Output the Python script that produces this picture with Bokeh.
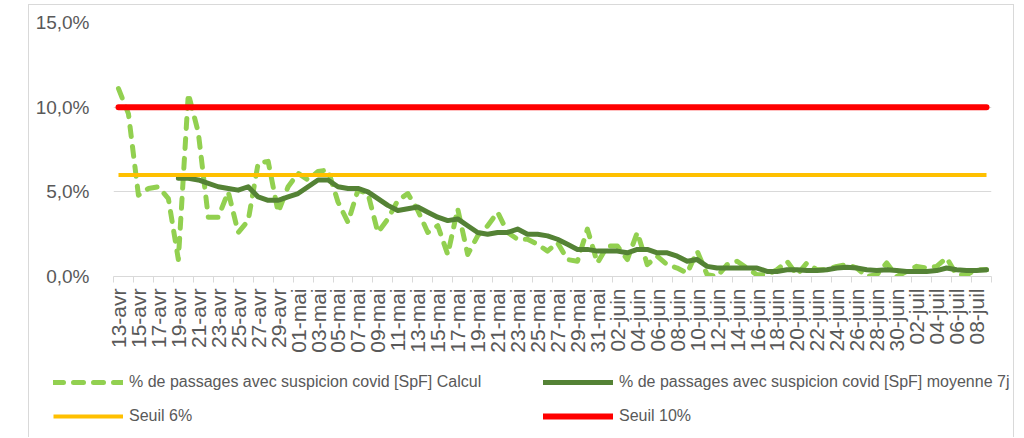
import math
import pandas as pd
from bokeh.plotting import figure
from bokeh.models import Range1d, FixedTicker, Legend, LegendItem
from bokeh.embed import file_html
from bokeh.resources import INLINE

# ---- categories (days) ----
mois = {4: "avr", 5: "mai", 6: "juin", 7: "juil"}
jours = pd.date_range("2020-04-13", "2020-07-09", freq="D")
categories = [f"{d.day:02d}-{mois[d.month]}" for d in jours]

# ---- series values (%) ----
calcul = [
    11.1, 9.6, 4.8, 5.2, 5.3, 4.6, 1.0, 10.8, 8.5, 3.5,
    3.5, 5.0, 2.6, 3.3, 6.7, 6.8, 3.8, 5.3, 6.1, 5.7,
    6.2, 6.3, 4.4, 3.2, 5.1, 4.9, 2.6, 3.4, 4.5, 4.9,
    3.9, 2.6, 3.0, 1.3, 4.0, 1.3, 2.4, 3.0, 3.8, 2.6,
    2.2, 2.2, 1.9, 1.5, 2.0, 1.0, 0.9, 2.8, 0.8, 1.8,
    1.8, 1.0, 2.6, 0.7, 1.2, 0.7, 0.5, 0.2, 1.5, 0.1,
    0.0, 0.7, 0.9, 0.5, 0.1, 0.1, 0.4, 0.9, 0.1, 0.8,
    0.4, 0.4, 0.6, 0.7, 0.5, 0.0, 0.1, 0.8, 0.0, 0.3,
    0.6, 0.5, 0.6, 1.1, 0.1, 0.1, 0.4, 0.4,
]
nan = float("nan")
moyenne_7j = [nan] * 6 + [
    5.8, 5.8, 5.7, 5.5, 5.3, 5.2, 5.1, 5.3, 4.7, 4.5,
    4.5, 4.7, 4.9, 5.3, 5.7, 5.7, 5.3, 5.2, 5.2, 5.0,
    4.6, 4.2, 3.9, 4.0, 4.1, 3.8, 3.5, 3.3, 3.4, 3.0,
    2.6, 2.5, 2.6, 2.6, 2.8, 2.5, 2.5, 2.4, 2.2, 1.9,
    1.6, 1.6, 1.5, 1.5, 1.5, 1.4, 1.6, 1.6, 1.4, 1.4,
    1.2, 0.9, 1.0, 0.6, 0.5, 0.5, 0.5, 0.5, 0.5, 0.3,
    0.3, 0.4, 0.4, 0.35, 0.35, 0.4, 0.5, 0.55, 0.5, 0.4,
    0.35, 0.4, 0.35, 0.3, 0.3, 0.3, 0.35, 0.5, 0.4, 0.35,
    0.35, 0.4,
]
seuil_6 = [6.0] * len(categories)
seuil_10 = [10.0] * len(categories)

y_ticks = [0, 5, 10, 15]
y_tick_labels = ["0,0%", "5,0%", "10,0%", "15,0%"]

series_labels = [
    "% de passages avec suspicion covid [SpF] Calcul",
    "% de passages avec suspicion covid [SpF] moyenne 7j",
    "Seuil 6%",
    "Seuil 10%",
]
series_values = [calcul, moyenne_7j, seuil_6, seuil_10]

x = list(range(len(categories)))
FONT = "Liberation Sans"
GREY_TXT = "#595959"
GREY_LINE = "#d9d9d9"
BORDER = "1px solid #d9d9d9"

STYLES = [
    dict(line_color="#92d050", line_width=5, line_dash="10 10",
         line_cap="round", line_join="round"),
    dict(line_color="#548235", line_width=5, line_cap="round", line_join="round"),
    dict(line_color="#ffc000", line_width=4),
    dict(line_color="#ff0000", line_width=6, line_cap="round"),
]

# ---------------- main chart ----------------
p = figure(
    width=986, height=350,
    x_range=Range1d(-0.5, len(categories) - 0.5),
    y_range=Range1d(0, 15),
    output_backend="svg", toolbar_location=None,
    min_border_left=84, min_border_right=24,
    min_border_top=17, min_border_bottom=78,
)
p.margin = (4, 0, 0, 28)
p.styles = {"border-top": BORDER, "border-left": BORDER, "border-right": BORDER}
p.outline_line_color = None
p.background_fill_color = "white"
p.border_fill_color = "white"

for ys, st in zip(series_values, STYLES):
    p.line(x, ys, **st)

# x axis
label_pos = list(range(0, len(categories), 2))
boundaries = [i - 0.5 for i in range(0, len(categories) + 1, 2)]
p.xaxis.ticker = FixedTicker(ticks=label_pos, minor_ticks=boundaries)
p.xaxis.major_label_overrides = {i: categories[i] for i in label_pos}
p.xaxis.major_label_orientation = math.pi / 2
p.xaxis.major_tick_out = 0
p.xaxis.major_tick_in = 0
p.xaxis.minor_tick_out = 6
p.xaxis.minor_tick_in = 0
p.xaxis.minor_tick_line_color = GREY_LINE
p.xaxis.axis_line_color = GREY_LINE
p.xaxis.major_label_standoff = 6
p.xaxis.major_label_text_font = FONT
p.xaxis.major_label_text_font_size = "21px"
p.xaxis.major_label_text_color = GREY_TXT

# y axis
p.yaxis.ticker = FixedTicker(ticks=y_ticks)
p.yaxis.major_label_overrides = dict(zip(y_ticks, y_tick_labels))
p.yaxis.axis_line_color = None
p.yaxis.major_tick_line_color = None
p.yaxis.minor_tick_line_color = None
p.yaxis.major_label_standoff = 18
p.yaxis.major_label_text_font = FONT
p.yaxis.major_label_text_font_size = "19px"
p.yaxis.major_label_text_color = GREY_TXT

p.ygrid.ticker = FixedTicker(ticks=y_ticks)
p.ygrid.grid_line_color = GREY_LINE
p.xgrid.visible = False

# ---------------- legend strip (separate root, no frame alignment) ----------------
pl = figure(
    width=986, height=83,
    x_range=Range1d(-0.5, len(categories) - 0.5), y_range=Range1d(100, 101),
    x_axis_location=None, y_axis_location=None,
    output_backend="svg", toolbar_location=None,
    min_border=0, min_border_left=0, min_border_right=0,
    min_border_top=0, min_border_bottom=0,
)
pl.margin = (0, 0, 0, 28)
pl.styles = {"border-left": BORDER, "border-right": BORDER}
pl.grid.visible = False
pl.outline_line_color = None
pl.background_fill_color = "white"
pl.border_fill_color = "white"

# same series, outside the strip's visible range: only their legend glyphs show
leg_renderers = [pl.line(x, ys, **st) for ys, st in zip(series_values, STYLES)]

legend = Legend(
    items=[LegendItem(label=lab, renderers=[r]) for lab, r in zip(series_labels, leg_renderers)],
    location=(24, 11),
    orientation="horizontal",
    ncols=2,
    glyph_width=70, glyph_height=20,
    label_standoff=6, label_width=400, label_height=20,
    spacing=14, padding=0, margin=0,
    border_line_color=None, background_fill_alpha=0,
    label_text_font=FONT, label_text_font_size="16px",
    label_text_color=GREY_TXT,
)
pl.add_layout(legend)

open("out.html", "w").write(file_html([p, pl], INLINE))
